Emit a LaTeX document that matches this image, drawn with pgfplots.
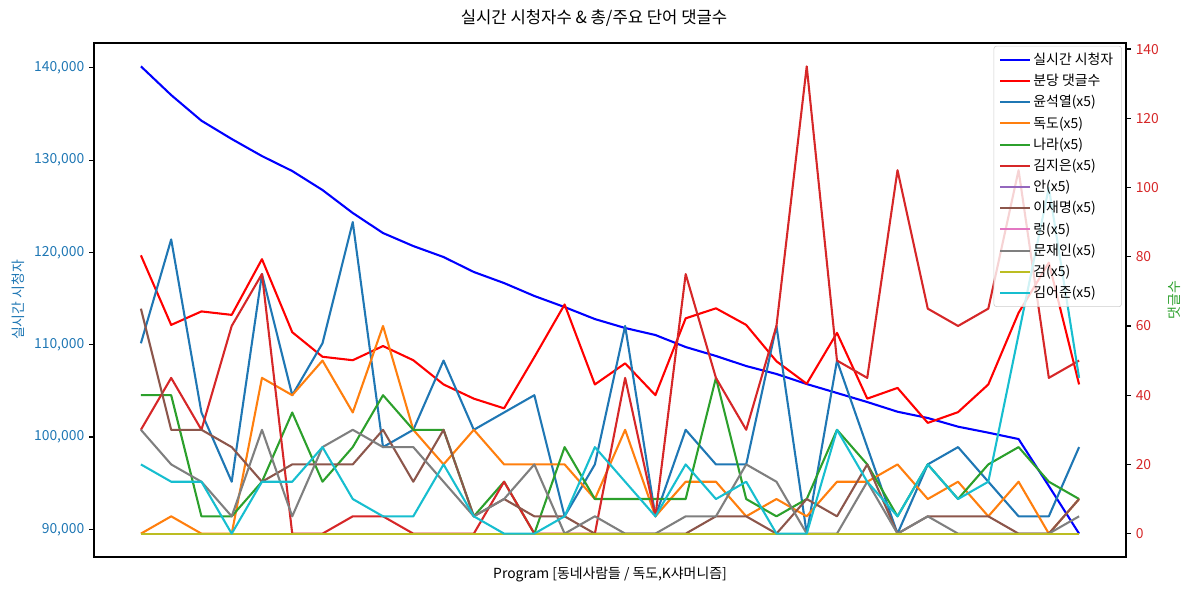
\documentclass[border=0pt]{standalone}
\usepackage{fontspec}
\setmainfont{Noto Sans CJK KR}
\usepackage{pgfplots}
\usepackage{pgfplotstable}
\pgfplotsset{compat=1.18}
\definecolor{tabblue}{HTML}{1F77B4}
\definecolor{taborange}{HTML}{FF7F0E}
\definecolor{tabgreen}{HTML}{2CA02C}
\definecolor{tabred}{HTML}{D62728}
\definecolor{tabpurple}{HTML}{9467BD}
\definecolor{tabbrown}{HTML}{8C564B}
\definecolor{tabpink}{HTML}{E377C2}
\definecolor{tabgray}{HTML}{7F7F7F}
\definecolor{tabolive}{HTML}{BCBD22}
\definecolor{tabcyan}{HTML}{17BECF}
\definecolor{lgray}{HTML}{CCCCCC}

\pgfplotstableread{
i view cpm yoon dokdo nara kimji an lee ryung moon geom kimeo
0 140160 80.4 55 0 40 30 0 65 0 30 0 20
1 137050 60.3 85 5 40 45 0 30 0 20 0 15
2 134270 64.2 35 0 5 30 0 30 0 15 0 15
3 132290 63.2 15 0 5 60 0 25 0 5 0 0
4 130440 79.3 75 45 15 75 0 15 0 30 0 15
5 128820 58.2 40 40 35 0 0 20 0 5 0 15
6 126760 51.1 55 50 15 0 0 20 0 25 0 25
7 124270 50.1 90 35 25 5 0 20 0 30 0 10
8 122100 54.2 25 60 40 5 0 30 0 25 0 5
9 120690 50.1 30 30 30 0 0 15 0 25 0 5
10 119500 43.1 50 20 30 0 0 30 0 15 0 20
11 117880 39.0 30 30 5 0 0 5 0 5 0 5
12 116680 36.2 35 20 15 15 0 10 0 10 0 0
13 115280 51.0 40 20 0 0 0 5 0 20 0 0
14 114080 66.2 5 20 25 0 0 5 0 0 0 5
15 112780 43.1 20 10 10 0 0 0 0 5 0 25
16 111810 49.2 60 30 10 45 0 0 0 0 0 15
17 111050 40.0 5 5 10 5 0 0 0 0 0 5
18 109750 62.2 30 15 10 75 0 0 0 5 0 20
19 108780 65.1 20 15 45 45 0 5 0 5 0 10
20 107690 60.3 20 5 10 30 0 5 0 20 0 15
21 106830 49.8 60 10 5 60 0 0 0 15 0 0
22 105740 43.3 0 5 10 135 0 10 0 0 0 0
23 104770 58.0 50 15 30 50 0 5 0 0 0 30
24 103790 39.0 25 15 20 45 0 20 0 15 0 15
25 102740 42.1 0 20 5 105 0 0 0 0 0 5
26 102060 32.0 20 10 20 65 0 5 0 5 0 20
27 101120 35.1 25 15 10 60 0 5 0 0 0 10
28 100470 43.1 15 5 20 65 0 5 0 0 0 15
29 99780 63.8 5 15 25 105 0 0 0 0 0 57.5
30 94690 78.3 5 0 15 45 0 0 0 0 0 100
31 89530 43.1 25 10 10 50 0 10 0 5 0 45
}\data

\pgfplotsset{
  common/.style={
    at={(67.68pt,25.2pt)}, anchor=south west,
    width=743.04pt, height=370.08pt, scale only axis,
    xmin=-1.55, xmax=32.55, xtick=\empty,
    tick align=outside, major tick length=3.5pt,
    every tick/.style={black, line width=0.8pt},
    axis line style={line width=0.8pt},
    ticklabel style={font=\fontsize{10}{12}\selectfont},
    label style={font=\fontsize{10}{12}\selectfont},
    /pgf/number format/assume math mode=true,
    scaled y ticks=false,
    every axis plot/.append style={line width=1.5pt, line join=round},
  }
}

\begin{document}
\begin{tikzpicture}[x=1pt,y=1pt]
\useasboundingbox (0,0) rectangle (856.08,426.24);
\node[font=\fontsize{12}{14}\selectfont] at (427.7,413.3) {실시간 시청자수 \& 총/주요 단어 댓글수};
\begin{axis}[common,
  ymin=87000, ymax=142690,
  ytick={90000,100000,110000,120000,130000,140000},
  yticklabels={{90,000},{100,000},{110,000},{120,000},{130,000},{140,000}},
  ytick pos=left,
  yticklabel style={text=tabblue},
  ylabel={실시간 시청자}, ylabel style={text=tabblue},
  xlabel={Program [동네사람들 / 독도,K샤머니즘]},
]
\addplot[blue] table[x=i,y=view]{\data};
\end{axis}
\begin{axis}[common,
  ymin=-6.75, ymax=141.75,
  axis x line=none, axis y line*=right,
  ytick={0,20,40,60,80,100,120,140},
  yticklabel style={text=tabred},
  ylabel={댓글수}, ylabel style={text=tabgreen},
  legend style={at={(rel axis cs:1,1)}, anchor=north east, xshift=-3pt, yshift=-2pt,
    draw=lgray, rounded corners=2pt, fill=white, fill opacity=0.8, text opacity=1,
    font=\fontsize{10}{12}\selectfont, row sep=1.5pt, inner xsep=4pt, inner ysep=3pt},
  legend cell align=left,
  legend image code/.code={\draw[#1] (0pt,0pt) -- (21pt,0pt);},
]
\addlegendimage{blue, line width=1.5pt}
\addlegendentry{실시간 시청자}
\addplot[red] table[x=i,y=cpm]{\data}; \addlegendentry{분당 댓글수}
\addplot[tabblue] table[x=i,y=yoon]{\data}; \addlegendentry{윤석열(x5)}
\addplot[taborange] table[x=i,y=dokdo]{\data}; \addlegendentry{독도(x5)}
\addplot[tabgreen] table[x=i,y=nara]{\data}; \addlegendentry{나라(x5)}
\addplot[tabred] table[x=i,y=kimji]{\data}; \addlegendentry{김지은(x5)}
\addplot[tabpurple] table[x=i,y=an]{\data}; \addlegendentry{안(x5)}
\addplot[tabbrown] table[x=i,y=lee]{\data}; \addlegendentry{이재명(x5)}
\addplot[tabpink] table[x=i,y=ryung]{\data}; \addlegendentry{렁(x5)}
\addplot[tabgray] table[x=i,y=moon]{\data}; \addlegendentry{문재인(x5)}
\addplot[tabolive] table[x=i,y=geom]{\data}; \addlegendentry{검(x5)}
\addplot[tabcyan] table[x=i,y=kimeo]{\data}; \addlegendentry{김어준(x5)}
\end{axis}
\end{tikzpicture}
\end{document}
